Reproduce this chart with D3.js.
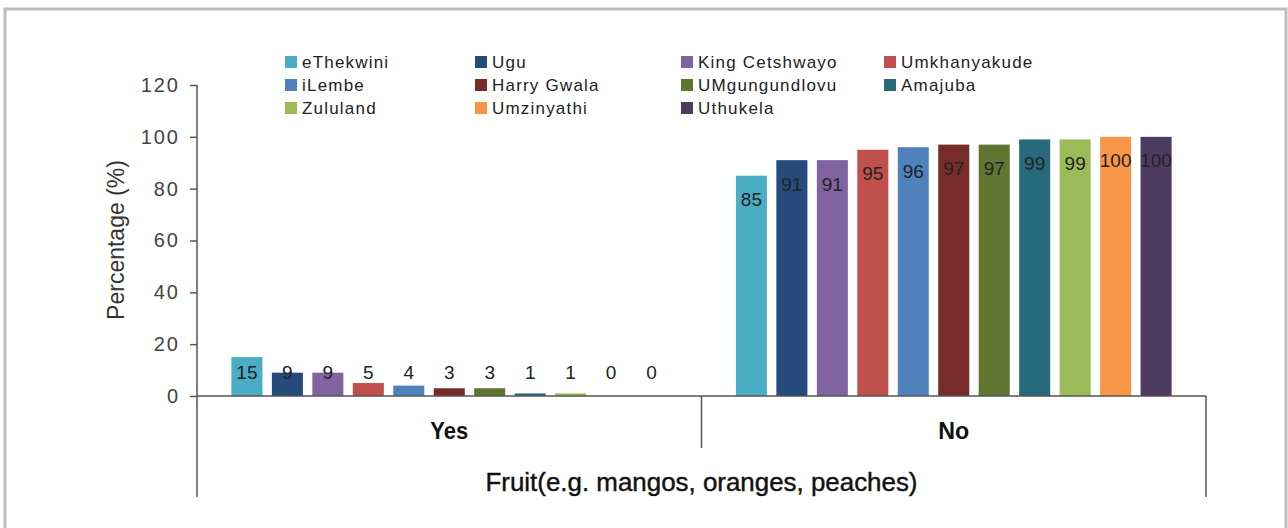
<!DOCTYPE html>
<html>
<head>
<meta charset="utf-8">
<script src="https://cdn.jsdelivr.net/npm/d3@7"></script>
<style>
  body { margin: 0; background: #fff; }
  svg { display: block; font-family: "Liberation Sans", Arial, sans-serif; }
</style>
</head>
<body>
<div class="diagram"></div>
<script>
const categories = ["Yes", "No"];
const districts = ["eThekwini", "Ugu", "King Cetshwayo", "Umkhanyakude", "iLembe", "Harry Gwala",
                   "UMgungundlovu", "Amajuba", "Zululand", "Umzinyathi", "Uthukela"];
const yesValues = [15, 9, 9, 5, 4, 3, 3, 1, 1, 0, 0];
const noValues = [85, 91, 91, 95, 96, 97, 97, 99, 99, 100, 100];
const colors = ["#4bacc6", "#254a7c", "#8064a2", "#c0504d", "#4f81bd", "#772c2a",
                "#5f7530", "#276a7c", "#9bbb59", "#f79646", "#4d3b62"];
const yTicks = [0, 20, 40, 60, 80, 100, 120];

const W = 1288, H = 528,
      plotL = 197, plotR = 1206, plotT = 85, plotB = 396;

const svg = d3.select(".diagram")
  .append("svg")
  .attr("width", W)
  .attr("height", H);

// outer frame
svg.append("rect")
  .attr("x", 5).attr("y", 9)
  .attr("width", 1281).attr("height", 560)
  .attr("fill", "none")
  .attr("stroke", "#bdbdc0")
  .attr("stroke-width", 3);

const x0 = d3.scaleBand().domain(categories).range([plotL, plotR]);
const x1 = d3.scaleBand().domain(districts).range([0, x0.bandwidth()])
  .paddingInner(0.233).paddingOuter(0.85);
const y = d3.scaleLinear().domain([0, 120]).range([plotB, plotT]);

const table = categories.map((c, i) => ({
  cat: c,
  vals: districts.map((d, j) => ({ name: d, v: (i === 0 ? yesValues : noValues)[j], color: colors[j] }))
}));

const groups = svg.selectAll("g.grp")
  .data(table)
  .enter()
  .append("g")
  .attr("class", "grp")
  .attr("transform", (d) => "translate(" + x0(d.cat) + ",0)");

groups.selectAll("rect")
  .data((d) => d.vals)
  .enter()
  .append("rect")
  .attr("x", (d) => x1(d.name))
  .attr("y", (d) => y(d.v))
  .attr("width", x1.bandwidth())
  .attr("height", (d) => y(0) - y(d.v))
  .attr("fill", (d) => d.color);

groups.selectAll("text.lbl")
  .data((d) => d.vals)
  .enter()
  .append("text")
  .attr("class", "lbl")
  .attr("x", (d) => x1(d.name) + x1.bandwidth() / 2)
  .attr("y", (d) => Math.min(y(d.v) + 24, y(0) - 24))
  .attr("dy", "0.35em")
  .attr("text-anchor", "middle")
  .attr("font-size", 19)
  .attr("fill", "#222")
  .text((d) => d.v);

// y axis
const yAxis = d3.axisLeft(y).tickValues(yTicks).tickSize(7).tickPadding(10);
const gy = svg.append("g")
  .attr("transform", "translate(" + plotL + ",0)")
  .call(yAxis);
gy.select(".domain").remove();
gy.selectAll("line").attr("stroke", "#555").attr("stroke-width", 1.5);
gy.selectAll("text").attr("font-size", 20).attr("fill", "#444")
  .attr("font-family", "'Liberation Sans', Arial, sans-serif")
  .attr("letter-spacing", 2);

// axis lines
const axisColor = "#555";
svg.append("line").attr("x1", plotL).attr("x2", plotL).attr("y1", plotT).attr("y2", 497)
  .attr("stroke", axisColor).attr("stroke-width", 1.5);
svg.append("line").attr("x1", plotL).attr("x2", plotR).attr("y1", y(0)).attr("y2", y(0))
  .attr("stroke", axisColor).attr("stroke-width", 1.5);
svg.append("line").attr("x1", plotR).attr("x2", plotR).attr("y1", y(0)).attr("y2", 497)
  .attr("stroke", axisColor).attr("stroke-width", 1.5);
svg.append("line").attr("x1", x0("No")).attr("x2", x0("No")).attr("y1", y(0)).attr("y2", 448)
  .attr("stroke", axisColor).attr("stroke-width", 1.5);

// category labels
svg.selectAll("text.cat")
  .data(categories)
  .enter()
  .append("text")
  .attr("class", "cat")
  .attr("x", (d) => x0(d) + x0.bandwidth() / 2)
  .attr("y", 439)
  .attr("text-anchor", "middle")
  .attr("font-size", 24)
  .attr("font-weight", "bold")
  .attr("fill", "#111")
  .attr("textLength", (d) => d === "Yes" ? 38 : 31)
  .attr("lengthAdjust", "spacingAndGlyphs")
  .text((d) => d);

svg.append("text")
  .attr("x", (plotL + plotR) / 2)
  .attr("y", 491)
  .attr("text-anchor", "middle")
  .attr("font-size", 25)
  .attr("fill", "#111")
  .attr("stroke", "#111")
  .attr("stroke-width", 0.4)
  .attr("textLength", 432)
  .attr("lengthAdjust", "spacingAndGlyphs")
  .text("Fruit(e.g. mangos, oranges, peaches)");

svg.append("text")
  .attr("transform", "translate(124,240) rotate(-90)")
  .attr("text-anchor", "middle")
  .attr("font-size", 23)
  .attr("fill", "#333")
  .text("Percentage (%)");

// legend
const legendX = [285, 475, 681, 884], legendY = [62, 85, 108];
const leg = svg.selectAll("g.leg")
  .data(districts)
  .enter()
  .append("g")
  .attr("class", "leg")
  .attr("transform", (d, i) => "translate(" + legendX[i % 4] + "," + legendY[Math.floor(i / 4)] + ")");
leg.append("rect")
  .attr("x", 0).attr("y", -6)
  .attr("width", 12).attr("height", 12)
  .attr("fill", (d, i) => colors[i]);
leg.append("text")
  .attr("x", 17)
  .attr("dy", "0.35em")
  .attr("font-size", 17)
  .attr("letter-spacing", 1.2)
  .attr("fill", "#222")
  .text((d) => d);
</script>
</body>
</html>
